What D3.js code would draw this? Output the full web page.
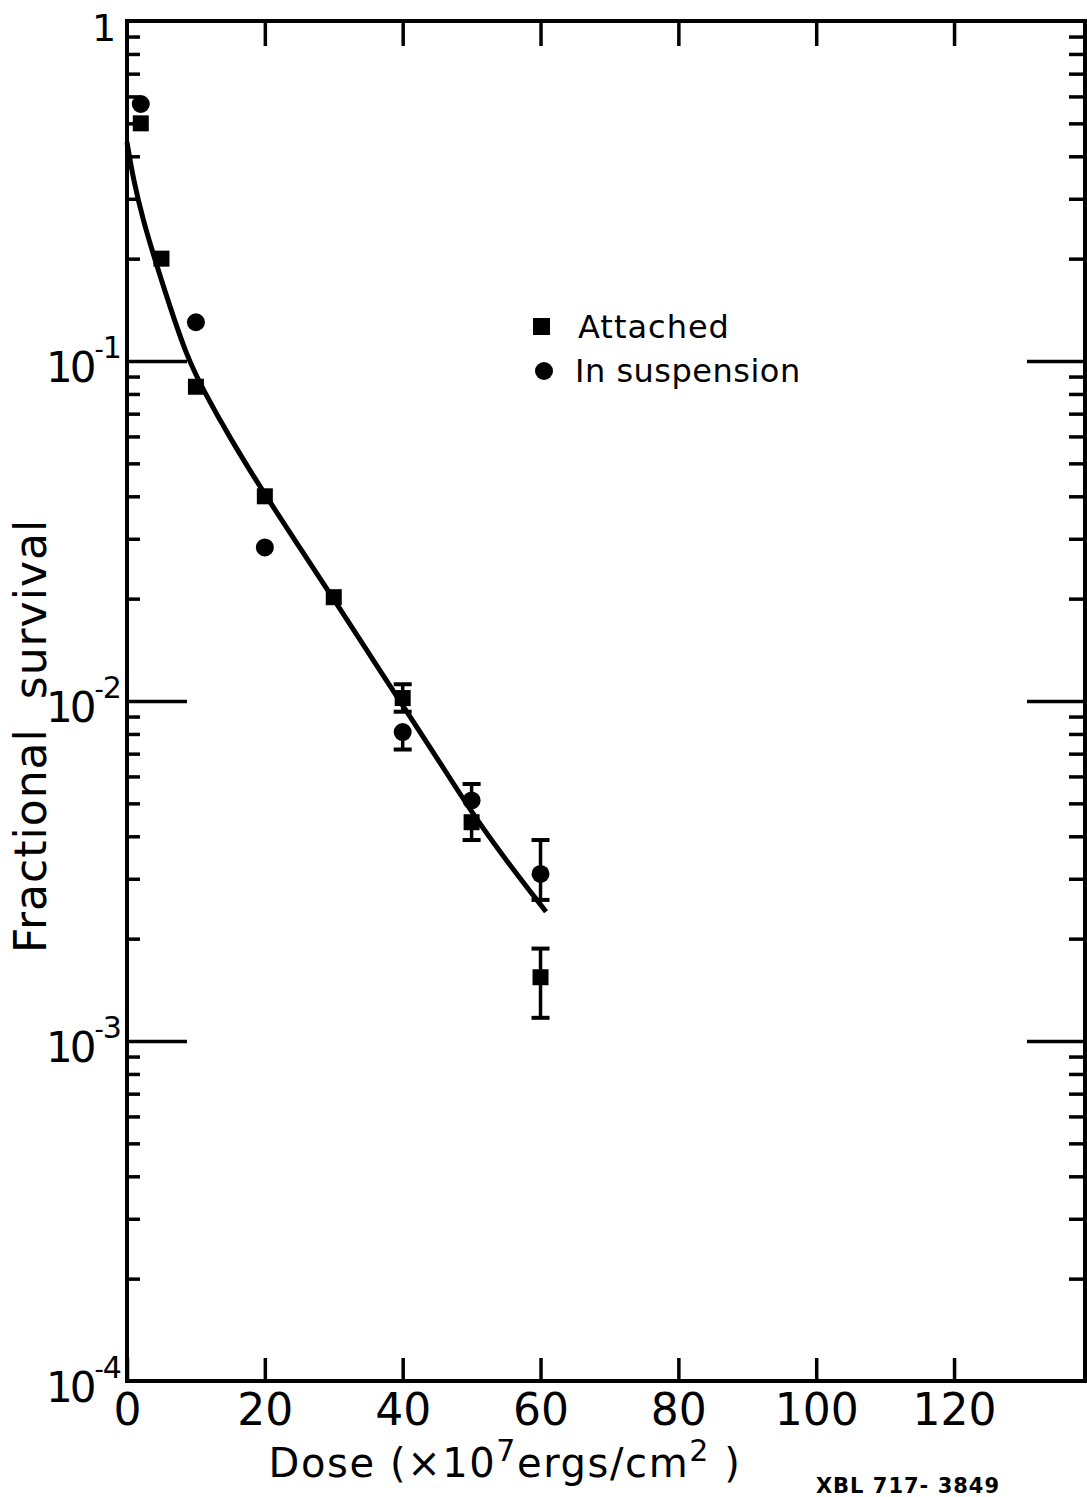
<!DOCTYPE html>
<html>
<head>
<meta charset="utf-8">
<script src="https://cdn.jsdelivr.net/npm/d3@7"></script>
<style>
  html, body { margin: 0; padding: 0; background: #fff; }
  svg { display: block; }
  text { font-family: "DejaVu Sans", sans-serif; fill: #000; }
</style>
</head>
<body>
<svg id="chart" width="1087" height="1497"></svg>
<script>
// ---- data ----
const xTicks = [0, 20, 40, 60, 80, 100, 120];
const yDecades = [1, 0.1, 0.01, 0.001, 0.0001];
const yDecadeExp = ["", "1", "2", "3", "4"];

const attachedDose = [2, 5, 10, 20, 30, 40, 50, 60];
const attachedSurv = [0.50, 0.20, 0.084, 0.040, 0.0202, 0.0102, 0.0044, 0.00154];
const attachedLo   = [null, null, null, null, null, 0.0093, 0.0039, 0.00117];
const attachedHi   = [null, null, null, null, null, 0.0112, null, 0.00187];

const suspDose = [2, 10, 20, 40, 50, 60];
const suspSurv = [0.57, 0.13, 0.0283, 0.0081, 0.0051, 0.0031];
const suspLo   = [null, null, null, 0.0072, null, 0.0026];
const suspHi   = [null, null, null, null, 0.0057, 0.0039];

const curveDose = [0, 0.9, 2.3, 4, 6.2, 8.7, 11, 15, 20, 25, 30, 35, 40, 45, 50, 55, 60.8];
const curveSurv = [0.44, 0.343, 0.261, 0.20, 0.145, 0.103, 0.0826, 0.059, 0.0405, 0.0284, 0.0199, 0.0139, 0.0097, 0.0068, 0.0047, 0.0034, 0.0024];

const legendLabels = ["Attached", "In suspension"];

// ---- layout ----
const svg = d3.select("#chart");
const L = 127, R = 1085, T = 21, B = 1381;
const x = d3.scaleLinear().domain([0, 139]).range([L, R]);
const y = d3.scaleLog().domain([1e-4, 1]).range([B, T]);

// minor tick values (2..9 of each decade)
const minor = [];
for (let e = -4; e < 0; e++) for (let m = 2; m <= 9; m++) minor.push(m * Math.pow(10, e));

// frame
svg.append("rect").attr("x", L).attr("y", T).attr("width", R - L).attr("height", B - T)
  .attr("fill", "none").attr("stroke", "#000").attr("stroke-width", 4);

// bottom axis (ticks pointing up inside)
const xAxis = d3.axisBottom(x).tickValues(xTicks).tickSizeInner(-23).tickSizeOuter(0).tickPadding(13)
  .tickFormat(d3.format("d"));
const gx = svg.append("g").attr("transform", `translate(0,${B})`).call(xAxis);
gx.select(".domain").remove();
gx.selectAll(".tick line").attr("stroke", "#000").attr("stroke-width", 3.5);
gx.selectAll(".tick text").attr("font-size", 44).attr("font-family", "DejaVu Sans").attr("fill", "#000");

// top axis (ticks pointing down inside)
const xTop = d3.axisTop(x).tickValues(xTicks.slice(1)).tickSizeInner(-25).tickSizeOuter(0).tickFormat("");
const gt = svg.append("g").attr("transform", `translate(0,${T})`).call(xTop);
gt.select(".domain").remove();
gt.selectAll(".tick line").attr("stroke", "#000").attr("stroke-width", 3.5);

// left axis: major and minor ticks inside
const gl = svg.append("g").attr("transform", `translate(${L},0)`);
gl.call(d3.axisRight(y).tickValues(yDecades.slice(1, 4)).tickSizeInner(60).tickSizeOuter(0).tickFormat(""));
gl.append("g").call(d3.axisRight(y).tickValues(minor).tickSizeInner(13).tickSizeOuter(0).tickFormat(""));
gl.selectAll(".domain").remove();
gl.selectAll(".tick line").attr("stroke", "#000").attr("stroke-width", 3.5);

// right axis
const gr = svg.append("g").attr("transform", `translate(${R},0)`);
gr.call(d3.axisLeft(y).tickValues(yDecades.slice(1, 4)).tickSizeInner(58).tickSizeOuter(0).tickFormat(""));
gr.append("g").call(d3.axisLeft(y).tickValues(minor).tickSizeInner(16).tickSizeOuter(0).tickFormat(""));
gr.selectAll(".domain").remove();
gr.selectAll(".tick line").attr("stroke", "#000").attr("stroke-width", 3.5);

// y tick labels
yDecades.forEach((v, i) => {
  const ty = y(v);
  if (i === 0) {
    svg.append("text").attr("x", 104).attr("y", ty + 20).attr("text-anchor", "middle")
      .attr("font-size", 38).text("1");
  } else {
    const t = svg.append("text").attr("x", 46).attr("y", ty + 21);
    t.append("tspan").attr("font-size", 42).attr("letter-spacing", -3).text("10");
    t.append("tspan").attr("font-size", 26).attr("dx", 1).attr("dy", -24).text("-");
    t.append("tspan").attr("font-size", 30).attr("dx", -1).text(yDecadeExp[i]);
  }
});

// axis titles
const xt = svg.append("text").attr("x", 505).attr("y", 1477).attr("text-anchor", "middle")
  .attr("font-size", 40).attr("letter-spacing", 1.6);
xt.append("tspan").text("Dose  (×10");
xt.append("tspan").attr("font-size", 30).attr("dy", -16).text("7");
xt.append("tspan").attr("dy", 16).text("ergs/cm");
xt.append("tspan").attr("font-size", 30).attr("dy", -16).text("2");
xt.append("tspan").attr("dy", 16).text(" )");

svg.append("text").attr("transform", "translate(46,736) rotate(-90)").attr("text-anchor", "middle")
  .attr("font-size", 44).attr("letter-spacing", 1).attr("word-spacing", 14).text("Fractional survival");

svg.append("text").attr("x", 908).attr("y", 1493).attr("text-anchor", "middle")
  .attr("font-size", 21).attr("font-weight", "bold").attr("letter-spacing", 1).text("XBL 717- 3849");

// fitted curve
const line = d3.line().x(d => x(d[0])).y(d => y(d[1])).curve(d3.curveBasis);
svg.append("path").datum(d3.zip(curveDose, curveSurv)).attr("d", line)
  .attr("fill", "none").attr("stroke", "#000").attr("stroke-width", 5);

// error bars
function errBars(dose, lo, hi, val) {
  dose.forEach((d, i) => {
    const cx = x(d);
    const a = lo[i] != null ? lo[i] : val[i];
    const b = hi[i] != null ? hi[i] : val[i];
    if (lo[i] == null && hi[i] == null) return;
    svg.append("line").attr("x1", cx).attr("x2", cx).attr("y1", y(a)).attr("y2", y(b))
      .attr("stroke", "#000").attr("stroke-width", 3.5);
    [lo[i], hi[i]].forEach(e => {
      if (e == null) return;
      svg.append("line").attr("x1", cx - 9).attr("x2", cx + 9).attr("y1", y(e)).attr("y2", y(e))
        .attr("stroke", "#000").attr("stroke-width", 4);
    });
  });
}
errBars(attachedDose, attachedLo, attachedHi, attachedSurv);
errBars(suspDose, suspLo, suspHi, suspSurv);

// markers
const S = 16;
svg.append("g").selectAll("rect").data(d3.zip(attachedDose, attachedSurv)).join("rect")
  .attr("x", d => x(d[0]) - S / 2).attr("y", d => y(d[1]) - S / 2)
  .attr("width", S).attr("height", S).attr("fill", "#000");
svg.append("g").selectAll("circle").data(d3.zip(suspDose, suspSurv)).join("circle")
  .attr("cx", d => x(d[0])).attr("cy", d => y(d[1])).attr("r", 9).attr("fill", "#000");

// legend
svg.append("rect").attr("x", 533).attr("y", 318).attr("width", 17).attr("height", 17).attr("fill", "#000");
svg.append("circle").attr("cx", 544).attr("cy", 371).attr("r", 9).attr("fill", "#000");
svg.append("text").attr("x", 578).attr("y", 338).attr("font-size", 32).attr("letter-spacing", 1).text(legendLabels[0]);
svg.append("text").attr("x", 575).attr("y", 382).attr("font-size", 32).attr("letter-spacing", 0.5).text(legendLabels[1]);
</script>
</body>
</html>
